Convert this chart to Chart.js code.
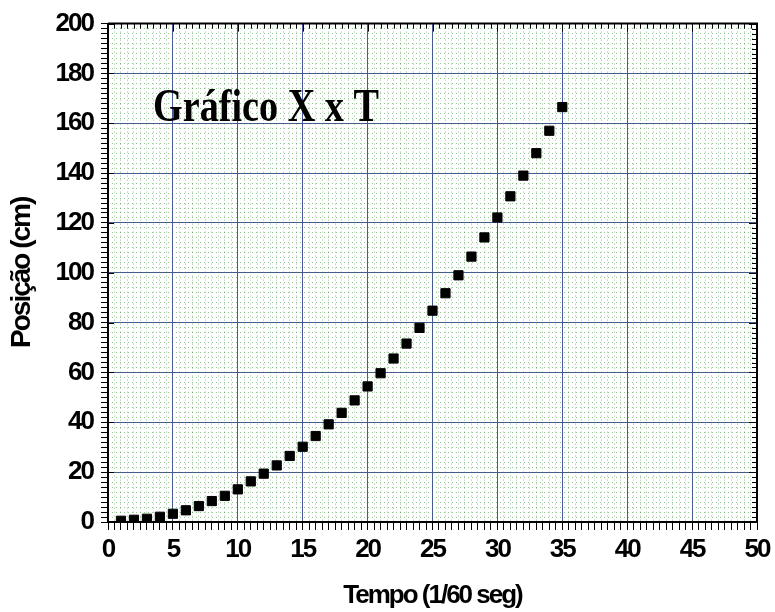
<!DOCTYPE html>
<html lang="pt">
<head>
<meta charset="UTF-8">
<title>Gráfico X x T</title>
<script src="https://cdn.jsdelivr.net/npm/chart.js"></script>
<style>
  html, body { margin: 0; padding: 0; background: #fff; }
  #wrap { width: 775px; height: 612px; }
</style>
</head>
<body>
<div id="wrap"><canvas id="grafico"></canvas></div>
<script>
// dados
const tempo = [1, 2, 3, 4, 5, 6, 7, 8, 9, 10, 11, 12, 13, 14, 15, 16, 17, 18,
               19, 20, 21, 22, 23, 24, 25, 26, 27, 28, 29, 30, 31, 32, 33, 34, 35];
const posicao = [0.5, 0.9, 1.3, 2.1, 3.3, 4.7, 6.4, 8.4, 10.5, 13.1, 16.3, 19.4,
                 22.7, 26.5, 30.2, 34.5, 39.2, 43.8, 48.8, 54.4, 59.7, 65.6, 71.6,
                 77.9, 84.8, 91.8, 99.0, 106.5, 114.2, 122.2, 130.7, 139.0, 148.0,
                 157.0, 166.5];
const xTicks = [0, 5, 10, 15, 20, 25, 30, 35, 40, 45, 50];
const yTicks = [0, 20, 40, 60, 80, 100, 120, 140, 160, 180, 200];

const AZUL = '#4f4fae';
const VERDE = 'rgba(40,140,40,0.5)';
const fonteEixo = { family: '"Liberation Sans", Arial, sans-serif', size: 26, weight: 'bold' };

// texto apertado como no original
const espacamento = {
  id: 'espacamento',
  beforeLayout(chart) { chart.ctx.letterSpacing = '-2px'; },
  beforeDraw(chart) { chart.ctx.letterSpacing = '-2px'; }
};

// moldura superior/direita com ticks internos + título
const moldura = {
  id: 'moldura',
  afterDraw(chart) {
    const { ctx, chartArea: a, scales } = chart;
    ctx.save();
    ctx.strokeStyle = '#000';
    ctx.lineWidth = 2;
    ctx.beginPath();
    ctx.moveTo(a.left, a.top); ctx.lineTo(a.right, a.top); ctx.lineTo(a.right, a.bottom);
    ctx.stroke();
    ctx.lineWidth = 1;
    ctx.beginPath();
    scales.x.ticks.forEach(t => {
      const px = Math.round(scales.x.getPixelForValue(t.value)) + 0.5;
      const len = xTicks.includes(t.value) ? 8 : 5;
      ctx.moveTo(px, a.top); ctx.lineTo(px, a.top + len);
    });
    scales.y.ticks.forEach(t => {
      const py = Math.round(scales.y.getPixelForValue(t.value)) + 0.5;
      const len = yTicks.includes(t.value) ? 8 : 5;
      ctx.moveTo(a.right, py); ctx.lineTo(a.right - len, py);
      // ticks principais cruzam o eixo esquerdo
      if (yTicks.includes(t.value)) { ctx.moveTo(a.left, py); ctx.lineTo(a.left + 6, py); }
    });
    ctx.stroke();

    ctx.letterSpacing = '0px';
    ctx.fillStyle = '#000';
    ctx.font = 'bold 46px "Liberation Serif", "Times New Roman", serif';
    ctx.textBaseline = 'alphabetic';
    ctx.translate(153, 121);
    ctx.scale(0.83, 1);
    ctx.fillText('Gráfico X x T', 0, 0);
    ctx.restore();
  }
};

new Chart(document.getElementById('grafico'), {
  type: 'scatter',
  data: {
    datasets: [{
      data: tempo.map((t, i) => ({ x: t, y: posicao[i] })),
      pointStyle: 'rect',
      pointRadius: 6.5,
      pointHoverRadius: 6.5,
      backgroundColor: '#000',
      borderColor: '#000',
      borderWidth: 1
    }]
  },
  options: {
    responsive: true,
    maintainAspectRatio: false,
    animation: false,
    layout: { padding: { left: 0, right: 18, top: 23, bottom: 0 } },
    plugins: {
      legend: { display: false },
      tooltip: { enabled: false }
    },
    scales: {
      x: {
        type: 'linear', position: 'bottom', min: 0, max: 50,
        afterFit: s => { s.height = 90; },
        ticks: {
          stepSize: 0.5, autoSkip: false, maxRotation: 0, minRotation: 0,
          padding: 4, color: '#000', font: fonteEixo,
          callback: v => xTicks.includes(v) ? String(v) : ''
        },
        grid: {
          color: c => xTicks.includes(c.tick.value) ? AZUL : 'rgba(0,0,0,0)',
          tickColor: '#000', tickLength: 8, lineWidth: 1
        },
        border: { color: '#000', width: 2 },
        title: {
          display: true, text: 'Tempo (1/60 seg)', color: '#000',
          font: fonteEixo, padding: { top: 0, bottom: 1 }
        }
      },
      y: {
        type: 'linear', position: 'left', min: 0, max: 200,
        afterFit: s => { s.width = 108; },
        ticks: {
          stepSize: 2, autoSkip: false, padding: 8, color: '#000', font: fonteEixo,
          callback: v => yTicks.includes(v) ? String(v) : ''
        },
        grid: {
          color: c => yTicks.includes(c.tick.value) ? AZUL : 'rgba(0,0,0,0)',
          tickColor: '#000', tickLength: 7, lineWidth: 1
        },
        border: { color: '#000', width: 2 },
        title: {
          display: true, text: 'Posição (cm)', color: '#000',
          font: { family: fonteEixo.family, size: 28, weight: 'bold' },
          padding: { top: 5, bottom: 0 }
        }
      },
      xMenor: {
        type: 'linear', position: 'bottom', min: 0, max: 50, z: -1,
        ticks: { display: false, stepSize: 0.5, autoSkip: false },
        grid: { drawTicks: false, color: VERDE, lineWidth: 1 },
        border: { display: false, dash: [1, 3] }
      },
      yMenor: {
        type: 'linear', position: 'left', min: 0, max: 200, z: -1,
        ticks: { display: false, stepSize: 2, autoSkip: false },
        grid: { drawTicks: false, color: VERDE, lineWidth: 1 },
        border: { display: false, dash: [1, 3] }
      }
    }
  },
  plugins: [espacamento, moldura]
});
</script>
</body>
</html>
